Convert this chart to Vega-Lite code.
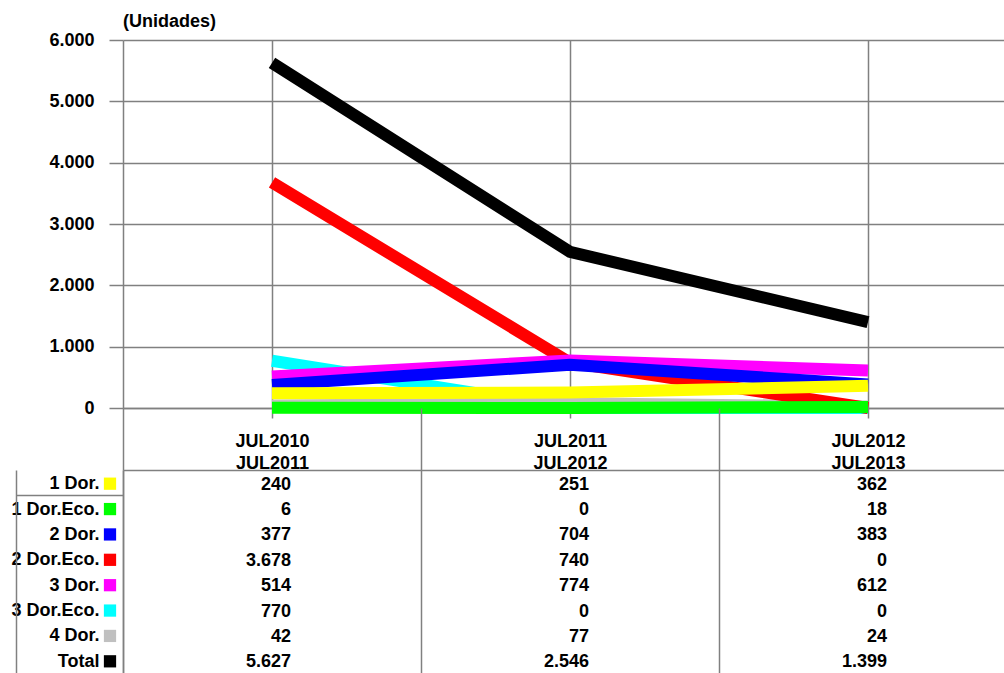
{
  "$schema": "https://vega.github.io/schema/vega-lite/v6.json",
  "padding": {"left": 10, "top": 13, "right": 0, "bottom": 0},
  "background": "white",
  "config": {
    "locale": {"number": {"decimal": ",", "thousands": ".", "grouping": [3], "currency": ["", ""]}},
    "font": "Liberation Sans",
    "view": {"stroke": null},
    "axis": {
      "labelFont": "Liberation Sans", "labelFontSize": 18, "labelFontWeight": "bold", "labelColor": "#000000",
      "domainColor": "#808080", "tickColor": "#808080", "gridColor": "#808080", "gridOpacity": 1,
      "domainWidth": 1.5, "tickWidth": 1.5, "gridWidth": 1.5, "title": null
    }
  },
  "datasets": {
    "d": [
      {"series": "3 Dor.Eco.", "period": "JUL2010 JUL2011", "value": 770},
      {"series": "3 Dor.Eco.", "period": "JUL2011 JUL2012", "value": 0},
      {"series": "3 Dor.Eco.", "period": "JUL2012 JUL2013", "value": 0},
      {"series": "4 Dor.", "period": "JUL2010 JUL2011", "value": 42},
      {"series": "4 Dor.", "period": "JUL2011 JUL2012", "value": 77},
      {"series": "4 Dor.", "period": "JUL2012 JUL2013", "value": 24},
      {"series": "2 Dor.Eco.", "period": "JUL2010 JUL2011", "value": 3678},
      {"series": "2 Dor.Eco.", "period": "JUL2011 JUL2012", "value": 740},
      {"series": "2 Dor.Eco.", "period": "JUL2012 JUL2013", "value": 0},
      {"series": "3 Dor.", "period": "JUL2010 JUL2011", "value": 514},
      {"series": "3 Dor.", "period": "JUL2011 JUL2012", "value": 774},
      {"series": "3 Dor.", "period": "JUL2012 JUL2013", "value": 612},
      {"series": "2 Dor.", "period": "JUL2010 JUL2011", "value": 377},
      {"series": "2 Dor.", "period": "JUL2011 JUL2012", "value": 704},
      {"series": "2 Dor.", "period": "JUL2012 JUL2013", "value": 383},
      {"series": "1 Dor.", "period": "JUL2010 JUL2011", "value": 240},
      {"series": "1 Dor.", "period": "JUL2011 JUL2012", "value": 251},
      {"series": "1 Dor.", "period": "JUL2012 JUL2013", "value": 362},
      {"series": "1 Dor.Eco.", "period": "JUL2010 JUL2011", "value": 6},
      {"series": "1 Dor.Eco.", "period": "JUL2011 JUL2012", "value": 0},
      {"series": "1 Dor.Eco.", "period": "JUL2012 JUL2013", "value": 18},
      {"series": "Total", "period": "JUL2010 JUL2011", "value": 5627},
      {"series": "Total", "period": "JUL2011 JUL2012", "value": 2546},
      {"series": "Total", "period": "JUL2012 JUL2013", "value": 1399}
    ]
  },
  "bounds": "flush",
  "spacing": 62,
  "vconcat": [
    {
      "width": 894,
      "height": 368,
      "title": {"text": "(Unidades)", "anchor": "start", "frame": "group", "fontSize": 18, "fontWeight": "bold", "font": "Liberation Sans", "color": "#000000", "offset": 0},
      "data": {"name": "d"},
      "mark": {"type": "line", "strokeWidth": 12, "strokeCap": "butt"},
      "encoding": {
        "x": {
          "field": "period", "type": "nominal",
          "sort": ["JUL2010 JUL2011", "JUL2011 JUL2012", "JUL2012 JUL2013"],
          "scale": {"type": "point", "padding": 0.5},
          "axis": {"labels": false, "ticks": true, "tickSize": 10, "grid": true, "domain": true, "orient": "bottom"}
        },
        "y": {
          "field": "value", "type": "quantitative",
          "scale": {"domain": [0, 6000], "nice": false},
          "axis": {"values": [0, 1000, 2000, 3000, 4000, 5000, 6000], "format": ",d", "tickSize": 14, "labelPadding": 15, "grid": true}
        },
        "color": {
          "field": "series", "type": "nominal",
          "scale": {
            "domain": ["1 Dor.", "1 Dor.Eco.", "2 Dor.", "2 Dor.Eco.", "3 Dor.", "3 Dor.Eco.", "4 Dor.", "Total"],
            "range": ["#FFFF00", "#00FF00", "#0000FF", "#FF0000", "#FF00FF", "#00FFFF", "#C0C0C0", "#000000"]
          },
          "legend": null
        }
      }
    },
    {
      "width": 894,
      "height": 203,
      "data": {"name": "d"},
      "resolve": {"axis": {"y": "independent"}},
      "layer": [
        {
          "mark": {"type": "text", "align": "right", "dx": 19, "dy": 2, "fontSize": 18, "fontWeight": "bold", "font": "Liberation Sans", "color": "#000000"},
          "encoding": {
            "x": {
              "field": "period", "type": "nominal",
              "sort": ["JUL2010 JUL2011", "JUL2011 JUL2012", "JUL2012 JUL2013"],
              "scale": {"type": "band", "paddingInner": 0, "paddingOuter": 0},
              "axis": {"orient": "top", "tickBand": "extent", "tickSize": 62, "labelPadding": -42, "labelExpr": "split(datum.label, ' ')", "labelLineHeight": 22, "labelAngle": 0, "grid": true, "domain": true}
            },
            "y": {
              "field": "series", "type": "nominal",
              "sort": ["1 Dor.", "1 Dor.Eco.", "2 Dor.", "2 Dor.Eco.", "3 Dor.", "3 Dor.Eco.", "4 Dor.", "Total"],
              "scale": {"type": "band", "paddingInner": 0, "paddingOuter": 0},
              "axis": {"orient": "left", "ticks": true, "tickBand": "extent", "tickSize": 107,
                "tickOpacity": {"condition": {"test": "datum.value === '1 Dor.'", "value": 1}, "value": 0},
                "labelPadding": -83, "labelOffset": 1, "domain": true, "grid": false}
            },
            "text": {"field": "value", "type": "quantitative", "format": ",d"}
          }
        },
        {
          "transform": [{"filter": "datum.period === 'JUL2010 JUL2011'"}],
          "mark": {"type": "point", "shape": "square", "filled": true, "size": 150, "opacity": 1, "xOffset": -13, "yOffset": 1},
          "encoding": {
            "x": {"field": "period", "type": "nominal", "bandPosition": 0,
              "sort": ["JUL2010 JUL2011", "JUL2011 JUL2012", "JUL2012 JUL2013"]},
            "y": {"field": "series", "type": "nominal",
              "sort": ["1 Dor.", "1 Dor.Eco.", "2 Dor.", "2 Dor.Eco.", "3 Dor.", "3 Dor.Eco.", "4 Dor.", "Total"],
              "axis": {"orient": "left", "labels": false, "ticks": false, "domain": true, "grid": false, "offset": 107}},
            "color": {"field": "series", "type": "nominal", "legend": null}
          }
        }
      ]
    }
  ]
}
